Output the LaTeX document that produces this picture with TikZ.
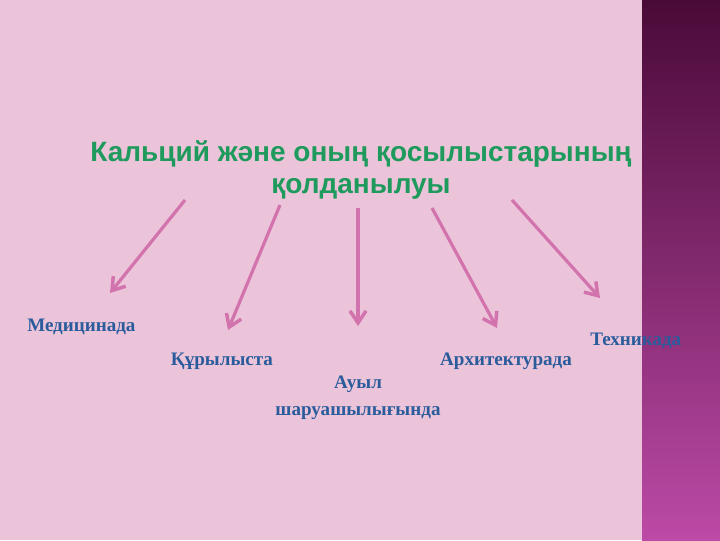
\documentclass[tikz,border=0pt]{standalone}
\usepackage{fontspec}
\setmainfont{Liberation Serif}
\newfontfamily\arialf{Liberation Sans}
\usetikzlibrary{arrows.meta}
\definecolor{bgpink}{HTML}{EBC4DA}
\definecolor{ttlgreen}{HTML}{1E9A5C}
\definecolor{lblblue}{HTML}{2A5C9C}
\definecolor{arrpink}{HTML}{D373AD}
\definecolor{stripTop}{HTML}{4A0A38}
\definecolor{stripBot}{HTML}{BC4AA6}
\tikzset{
  conn/.style={draw=arrpink, line width=2.4pt, -{Straight Barb[length=9pt,width=12pt,line width=2.6pt]}},
  ttl/.style={font=\arialf\bfseries\fontsize{21}{24}\selectfont, text=ttlgreen, align=center},
  lbl/.style={font=\bfseries\fontsize{14.3}{20}\selectfont, text=lblblue, align=center, inner sep=0pt}
}
\begin{document}
\begin{tikzpicture}[x=0.75pt,y=-0.75pt]
\useasboundingbox (0,0) rectangle (720,540);
\fill[bgpink] (0,0) rectangle (720,540);
\shade[top color=stripTop, bottom color=stripBot] (642,0) rectangle (720,540);
\node[ttl] (title) at (361,170) {Кальций және оның қосылыстарының\\қолданылуы};
\coordinate (s1) at (185,200); \coordinate (e1) at (110,293);
\coordinate (s2) at (280,205); \coordinate (e2) at (228,330);
\coordinate (s3) at (358,208); \coordinate (e3) at (358,326);
\coordinate (s4) at (432,208); \coordinate (e4) at (497,328);
\coordinate (s5) at (512,200); \coordinate (e5) at (600,298);
\foreach \i in {1,...,5} \draw[conn] (s\i) -- (e\i);
\node[lbl, anchor=west] (med) at (27,327) {Медицинада};
\node[lbl] (kur) at (222,361) {Құрылыста};
\node[lbl, anchor=west] (tech) at (590,341) {Техникада};
\node[lbl] (arch) at (506,361) {Архитектурада};
\node[lbl] (auyl) at (358,398) {Ауыл\\шаруашылығында};
\end{tikzpicture}
\end{document}
